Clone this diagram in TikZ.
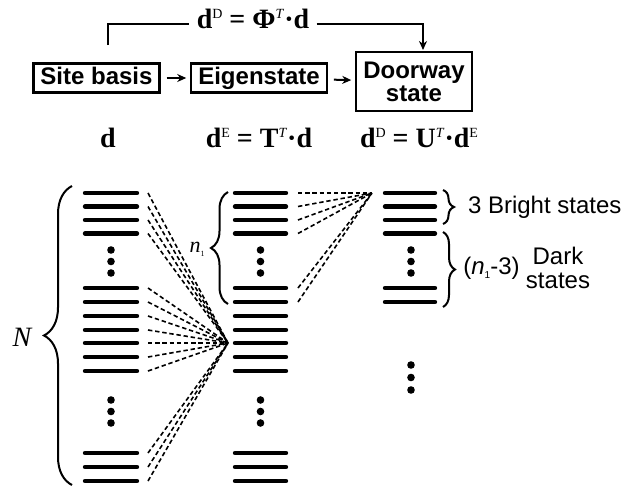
\documentclass[tikz,border=0pt]{standalone}
\usepackage{fontspec}
\setsansfont{Liberation Sans}
\newfontfamily\eqfont{Liberation Serif}
\usepackage{tikz}
\usetikzlibrary{arrows.meta,decorations.pathreplacing}
\newcommand{\up}[1]{\raisebox{5pt}{\fontsize{7}{7}\selectfont\mdseries #1}}
\tikzset{
  >={Stealth[length=4.5pt,width=4pt]},
  stagebox/.style={draw,line width=1.1pt,inner xsep=3.5pt,inner ysep=1.5pt,font=\sffamily\bfseries\fontsize{12}{11.5}\selectfont,align=center},
  flow/.style={->,line width=1pt},
  level/.style={line width=2.2pt,line cap=round},
  fan/.style={line width=.8pt,dash pattern=on 2.2pt off 1.4pt},
  bracket/.style={decorate,line width=1pt},
  eq/.style={font=\eqfont\bfseries\fontsize{14}{16}\selectfont,inner xsep=3.5pt},
  side/.style={font=\sffamily\fontsize{12}{12}\selectfont},
}
\begin{document}
\begin{tikzpicture}[x=.5pt,y=-.5pt]
  \useasboundingbox[fill=white] (0,0) rectangle (621,493);

  % stages and the top bypass
  \node[stagebox,text height=9pt,text depth=2.5pt] (site) at (96.5,78) {Site basis};
  \node[stagebox,text height=9pt,text depth=2.5pt] (eigen) at (259,78) {Eigenstate};
  \node[stagebox,minimum height=29.5pt] (door) at (414,81.5) {Doorway\\state};
  \draw[flow,shorten <=3pt,shorten >=2pt] (site) -- (eigen);
  \draw[flow,shorten <=3pt,shorten >=2pt] (eigen) -- (door);
  \node[eq,anchor=base] (phi) at (253,28) {d\up{D} = Φ\up{\textit{T}}·d};
  \coordinate (lstart) at (108,45);
  \coordinate (lend) at (423,50);
  \draw[line width=1pt] (lstart) |- ([yshift=2pt]phi.base west);
  \draw[flow] ([yshift=2pt]phi.base east) -| (lend);

  % transforms
  \node[eq,anchor=base] (dsite) at (108,147) {d};
  \node[eq,anchor=base] (deigen) at (259,147) {d\up{E} = T\up{\textit{T}}·d};
  \node[eq,anchor=base] (ddoor) at (419,147) {d\up{D} = U\up{\textit{T}}·d\up{E}};

  % level ladders
  \foreach \xa/\xb in {85/137,235/286}{
    \foreach \y in {193,206.5,220,233.5,288,302,316,330,343,357,371,453,467,481}
      \draw[level] (\xa,\y) -- (\xb,\y);
    \foreach \y in {250,261.5,273,400,411.5,423}
      \fill ({(\xa+\xb)/2},\y) circle (1.9pt);
  }
  \foreach \y in {193,206.5,220,233.5,288,302}
    \draw[level] (385,\y) -- (435,\y);
  \foreach \y in {250,261.5,273,365,377.5,390}
    \fill (411,\y) circle (1.9pt);

  % couplings
  \coordinate (f1) at (228,343);
  \coordinate (f2) at (372,193);
  \foreach \y [count=\k] in {193,206.5,220,233.5,288,302,316,330,343,357,371,453,467,481}{
    \coordinate (a\k) at (148,\y);
    \draw[fan] (a\k) -- (f1);
  }
  \foreach \y [count=\k] in {193,206.5,220,233.5,288,302}{
    \coordinate (b\k) at (298,\y);
    \draw[fan] (b\k) -- (f2);
  }

  % braces and their labels
  \draw[bracket,decoration={brace,amplitude=14pt}] (72,485) -- (72,186);
  \node[font=\eqfont\itshape\fontsize{14}{14}\selectfont] (bigN) at (22,337) {N};
  \draw[bracket,decoration={brace,amplitude=8.5pt}] (228,304) -- (228,192);
  \node[font=\eqfont\itshape\fontsize{11}{11}\selectfont] (smalln) at (197,249) {n\raisebox{-2pt}{\fontsize{4}{4}\selectfont\upshape 1}};
  \draw[bracket,decoration={brace,amplitude=5.5pt}] (443,190) -- (443,224);
  \draw[bracket,decoration={brace,amplitude=6pt}] (443,232) -- (443,307);
  \node[side,anchor=base west] (bright) at (461,213) {3 Bright states};
  \node[side,anchor=west,inner xsep=0pt] (count) at (463,268) {(\textit{n}\raisebox{-2pt}{\fontsize{5}{5}\selectfont 1}-3)};
  \node[side,align=center] (dark) at (558,268) {Dark\\states};
\end{tikzpicture}
\end{document}
